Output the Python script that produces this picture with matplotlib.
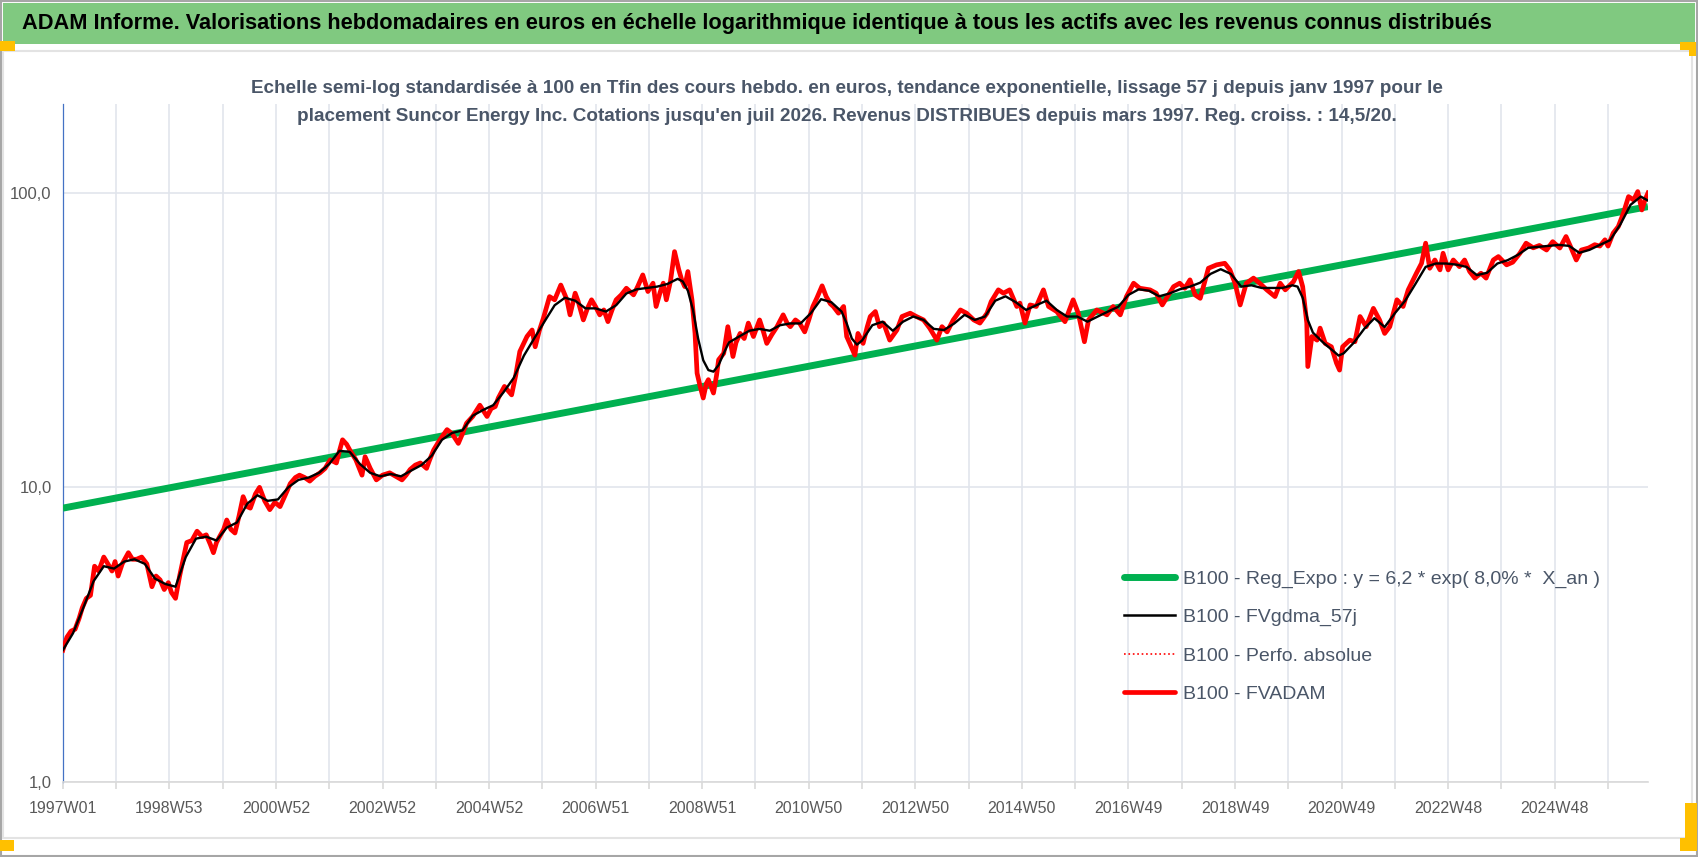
import matplotlib
matplotlib.use('Agg')
import matplotlib.pyplot as plt
from matplotlib.patches import Rectangle
from matplotlib.lines import Line2D

plt.rcParams['font.family'] = ['Liberation Sans Narrow', 'Liberation Sans', 'DejaVu Sans']

# semaines depuis 1997W01 (index) et valeurs
fvadam_sem = [0, 4, 8, 12, 16, 19, 23, 27, 31, 35, 40, 44, 48, 51, 54, 58, 64, 68, 72, 77,
              82, 87, 91, 95, 99, 103, 106, 110, 114, 121, 126, 131, 136, 140, 144, 147, 150, 153, 157, 160,
              164, 168, 172, 176, 180, 183, 188, 192, 197, 202, 207, 212, 217, 222, 227, 231, 236, 241, 246, 251,
              256, 261, 267, 270, 273, 277, 280, 286, 292, 295, 300, 306, 312, 319, 325, 331, 335, 339, 344, 349,
              355, 358, 362, 368, 375, 380, 386, 390, 394, 400, 407, 414, 418, 422, 425, 431, 438, 442, 446, 453,
              458, 461, 465, 469, 475, 480, 486, 492, 495, 500, 503, 508, 512, 516, 520, 524, 528, 532, 536, 540,
              545, 550, 557, 561, 566, 571, 576, 579, 583, 586, 589, 593, 597, 601, 604, 607, 610, 614, 617, 619,
              622, 625, 628, 630, 635, 638, 640, 645, 649, 654, 657, 661, 665, 669, 674, 680, 684, 687, 692, 697,
              703, 707, 710, 715, 719, 724, 728, 732, 736, 741, 745, 749, 752, 757, 762, 765, 768, 773, 776, 781,
              785, 788, 793, 797, 801, 807, 814, 819, 827, 833, 840, 846, 853, 858, 863, 869, 876, 882, 889, 895,
              902, 906, 913, 918, 924, 931, 934, 939, 944, 950, 957, 962, 970, 978, 986, 991, 997, 1001, 1009, 1019,
              1025, 1032, 1038, 1045, 1051, 1061, 1067, 1073, 1078, 1084, 1090, 1095, 1100, 1105, 1110, 1118, 1126, 1134, 1139, 1144,
              1149, 1155, 1162, 1168, 1175, 1183, 1188, 1193, 1201, 1206, 1210, 1214, 1215, 1219, 1224, 1227, 1232, 1238, 1243, 1246,
              1249, 1256, 1261, 1266, 1272, 1279, 1285, 1290, 1295, 1302, 1308, 1313, 1321, 1326, 1330, 1334, 1339, 1344, 1347, 1352,
              1357, 1363, 1368, 1373, 1378, 1384, 1389, 1396, 1401, 1409, 1415, 1422, 1428, 1435, 1441, 1448, 1454, 1461, 1467, 1472,
              1477, 1482, 1489, 1495, 1500, 1505, 1508, 1513, 1518, 1523, 1528, 1533, 1537, 1541, 1544, 1547]
fvadam_val = [2.8, 3.1, 3.25, 3.3, 3.6, 3.9, 4.2, 4.3, 5.4, 5.2, 5.8, 5.5, 5.2, 5.6, 5.0, 5.5, 6.0, 5.7, 5.7, 5.8,
              5.5, 4.6, 5.0, 4.85, 4.5, 4.75, 4.4, 4.2, 5.0, 6.5, 6.6, 7.1, 6.8, 6.9, 6.4, 6.0, 6.5, 6.8, 7.2, 7.75,
              7.2, 7.0, 8.0, 9.3, 8.6, 8.5, 9.5, 10.0, 9.0, 8.4, 8.9, 8.6, 9.4, 10.3, 10.8, 11.0, 10.8, 10.5, 10.9, 11.2,
              11.6, 12.4, 12.1, 13.3, 14.5, 14.0, 13.4, 12.4, 11.0, 12.7, 11.6, 10.6, 11.0, 11.2, 10.9, 10.6, 11.0, 11.5, 11.9, 12.1,
              11.6, 12.4, 13.4, 14.5, 15.7, 15.2, 14.1, 15.2, 16.5, 17.4, 19.0, 17.4, 18.5, 18.8, 20.1, 22.0, 20.6, 24.0, 28.9, 32.5,
              34.2, 30.0, 34.0, 37.5, 44.4, 43.3, 48.6, 43.3, 38.5, 45.6, 42.7, 37.0, 40.5, 43.3, 41.0, 38.5, 40.0, 36.5, 40.0, 43.3,
              45.0, 47.4, 45.0, 48.0, 52.6, 46.2, 49.3, 41.1, 46.0, 49.3, 43.3, 50.0, 63.1, 55.0, 50.6, 48.0, 54.0, 43.3, 33.3, 24.4,
              22.0, 20.1, 22.5, 23.2, 20.9, 24.0, 27.1, 28.5, 35.1, 27.8, 31.0, 33.3, 32.0, 36.1, 32.5, 37.0, 33.5, 30.8, 33.0, 35.1,
              38.5, 36.0, 35.1, 37.0, 36.1, 33.7, 37.0, 41.1, 44.0, 48.3, 44.4, 42.0, 41.1, 39.0, 41.1, 32.5, 30.8, 28.1, 33.3, 30.8,
              35.0, 38.0, 39.5, 35.1, 36.1, 31.6, 34.2, 38.0, 39.0, 38.0, 37.0, 34.7, 31.6, 35.1, 33.7, 37.0, 40.0, 39.0, 37.0, 36.1,
              39.0, 42.7, 46.8, 45.6, 46.8, 41.1, 42.2, 36.1, 41.6, 41.1, 46.8, 41.1, 39.5, 36.5, 43.3, 39.0, 31.2, 37.0, 40.0, 38.5,
              41.1, 38.5, 44.4, 49.3, 47.4, 46.8, 45.6, 41.6, 44.4, 48.0, 49.3, 47.4, 50.6, 45.0, 43.8, 55.4, 56.9, 57.6, 54.7, 49.3,
              41.6, 49.3, 51.3, 49.3, 46.8, 44.4, 49.3, 46.8, 49.9, 54.0, 48.0, 36.1, 25.7, 32.5, 31.6, 34.7, 30.8, 30.0, 26.4, 25.0,
              30.0, 31.6, 31.2, 38.0, 35.1, 40.5, 37.0, 33.3, 35.1, 43.3, 41.1, 46.8, 53.3, 57.6, 67.4, 55.4, 59.1, 54.7, 62.3, 54.7,
              59.1, 56.1, 59.1, 54.0, 51.3, 53.3, 51.3, 59.1, 60.7, 56.9, 58.1, 62.3, 67.4, 65.0, 66.2, 63.9, 68.2, 64.9, 71.0, 64.9,
              59.1, 63.9, 64.9, 66.6, 65.9, 69.2, 65.9, 72.9, 76.7, 85.2, 97.0, 94.5, 100.9, 87.4, 94.5, 99.8]

gdma_sem = [0, 10, 20, 30, 40, 50, 60, 70, 80, 90, 100, 110, 120, 130, 140, 150, 160, 170, 180, 190,
            200, 210, 220, 230, 240, 250, 260, 270, 280, 290, 300, 310, 320, 330, 340, 350, 360, 370, 380, 390,
            400, 410, 420, 430, 440, 450, 460, 470, 480, 490, 500, 510, 520, 530, 540, 550, 560, 570, 580, 590,
            600, 605, 610, 615, 620, 625, 630, 635, 640, 645, 650, 660, 670, 680, 690, 700, 710, 720, 730, 740,
            750, 760, 765, 770, 775, 780, 790, 800, 810, 820, 830, 840, 850, 860, 870, 880, 890, 900, 910, 920,
            930, 940, 950, 960, 970, 980, 990, 1000, 1010, 1020, 1030, 1040, 1050, 1060, 1070, 1080, 1090, 1100, 1110, 1120,
            1130, 1140, 1150, 1160, 1170, 1180, 1190, 1200, 1205, 1210, 1215, 1220, 1230, 1240, 1245, 1250, 1260, 1270, 1280, 1290,
            1300, 1310, 1320, 1330, 1340, 1350, 1360, 1370, 1380, 1390, 1400, 1410, 1420, 1430, 1440, 1450, 1460, 1470, 1480, 1490,
            1500, 1510, 1520, 1530, 1540, 1547]
gdma_val = [2.8, 3.2, 3.9, 4.8, 5.4, 5.3, 5.6, 5.7, 5.5, 4.9, 4.7, 4.6, 5.8, 6.7, 6.8, 6.6, 7.3, 7.6, 8.8, 9.4,
            9.0, 9.1, 10.0, 10.6, 10.8, 11.2, 12.0, 13.3, 13.2, 12.0, 11.2, 10.9, 11.1, 10.9, 11.4, 11.9, 12.8, 14.5, 15.3, 15.6,
            17.5, 18.3, 19.0, 21.0, 23.5, 28.0, 32.0, 36.5, 41.5, 44.0, 43.0, 40.5, 40.5, 39.5, 41.5, 45.5, 47.0, 47.5, 48.0, 49.0,
            51.0, 50.0, 46.5, 40.0, 32.0, 27.0, 25.0, 24.7, 26.0, 28.5, 31.0, 32.5, 34.0, 34.5, 34.0, 35.5, 36.0, 36.0, 39.0, 43.5,
            42.5, 39.5, 36.0, 32.0, 30.5, 31.5, 35.5, 36.5, 34.0, 36.5, 38.0, 37.0, 34.5, 34.2, 36.0, 38.5, 37.0, 38.0, 43.0, 44.5,
            42.5, 40.0, 41.5, 43.0, 40.0, 38.0, 38.0, 36.5, 38.0, 39.5, 41.0, 45.0, 47.0, 46.5, 44.5, 45.5, 47.0, 48.0, 49.5, 53.0,
            55.0, 53.0, 48.0, 48.5, 47.5, 47.5, 47.5, 48.5, 48.0, 44.0, 37.0, 33.5, 31.0, 29.0, 28.0, 28.5, 31.0, 34.5, 37.5, 35.0,
            39.0, 43.0, 49.0, 56.0, 57.5, 57.5, 57.0, 56.0, 52.5, 53.5, 57.5, 59.0, 61.5, 65.0, 65.5, 66.0, 66.5, 66.0, 62.5, 64.0,
            66.5, 69.0, 78.0, 91.0, 97.0, 94.0]

# regression exponentielle : extremites lues
reg_sem = [0, 1547]
reg_val = [8.5, 89.7]

tick_sem = [0, 104, 208, 312, 416, 520, 624, 728, 832, 936, 1040, 1144, 1248, 1352, 1456]
tick_lab = ['1997W01', '1998W53', '2000W52', '2002W52', '2004W52', '2006W51', '2008W51', '2010W50',
            '2012W50', '2014W50', '2016W49', '2018W49', '2020W49', '2022W48', '2024W48']
ytick_val = [1, 10, 100]
ytick_lab = ['1,0', '10,0', '100,0']

W, H = 1698, 857
fig = plt.figure(figsize=(W / 100, H / 100), dpi=100)

# cadre, bandeau vert, poignees jaunes
def px_rect(x0, y0, x1, y1, **kw):
    fig.patches.append(Rectangle((x0 / W, 1 - y1 / H), (x1 - x0) / W, (y1 - y0) / H,
                                 transform=fig.transFigure, figure=fig, **kw))

px_rect(1, 1, W - 1, H - 1, facecolor='none', edgecolor='#A6A6A6', linewidth=1.5)
px_rect(3, 3, 1695, 44, facecolor='#80C980', edgecolor='none')
px_rect(3, 51, 1692, 838, facecolor='none', edgecolor='#E3E3E3', linewidth=1.5)
px_rect(0, 41, 15, 51, facecolor='#FFC000', edgecolor='none')
px_rect(1680, 42, 1696, 50, facecolor='#FFC000', edgecolor='none')
px_rect(1689, 42, 1696, 56, facecolor='#FFC000', edgecolor='none')
px_rect(0, 840, 14, 851, facecolor='#FFC000', edgecolor='none')
px_rect(1685, 803, 1697, 851, facecolor='#FFC000', edgecolor='none')
px_rect(1680, 838, 1697, 851, facecolor='#FFC000', edgecolor='none')

fig.text(22 / W, 1 - 24 / H,
         "ADAM Informe. Valorisations hebdomadaires en euros en échelle logarithmique identique à tous les actifs avec les revenus connus distribués",
         fontsize=15.7, fontweight='bold', color='black', ha='left', va='center')
fig.text(847 / W, 1 - 102.5 / H,
         "Echelle semi-log standardisée à 100 en Tfin des cours hebdo. en euros, tendance exponentielle, lissage 57 j depuis janv 1997 pour le\n"
         "placement Suncor Energy Inc. Cotations jusqu'en juil 2026. Revenus DISTRIBUES depuis mars 1997. Reg. croiss. : 14,5/20.",
         fontsize=13.6, fontweight='bold', color='#4A5668', ha='center', va='center', linespacing=1.85)

ax = fig.add_axes([62.8 / W, 1 - 782 / H, (1648 - 62.8) / W, (782 - 104) / H])
ax.set_yscale('log')
ax.set_ylim(1, 200)
ax.set_xlim(0, 1547)

ax.plot(reg_sem, reg_val, color='#00B050', linewidth=5, solid_capstyle='butt', zorder=3)
ax.plot(fvadam_sem, fvadam_val, color='#FF0000', linewidth=1.2, linestyle=':', zorder=3.5)
ax.plot(fvadam_sem, fvadam_val, color='#FF0000', linewidth=3.4, zorder=4)
ax.plot(gdma_sem, gdma_val, color='black', linewidth=1.7, zorder=5)

ax.set_yticks(ytick_val)
ax.set_yticklabels(ytick_lab)
ax.yaxis.set_minor_locator(matplotlib.ticker.NullLocator())
ax.set_xticks(tick_sem)
ax.set_xticklabels(tick_lab)
ax.set_xticks([52 + 104 * k for k in range(15)], minor=True)
ax.tick_params(axis='y', length=0, pad=8, labelsize=12, labelcolor='#595959')
ax.tick_params(axis='x', which='both', length=5, width=1.2, color='#D9D9D9', direction='out',
               pad=9, labelsize=11.5, labelcolor='#595959')
ax.grid(True, which='both', axis='x', color='#E1E5EC', linewidth=1.2)
ax.grid(True, which='major', axis='y', color='#E1E5EC', linewidth=1.2)
ax.set_axisbelow(True)
for s in ['top', 'right']:
    ax.spines[s].set_visible(False)
ax.spines['left'].set_color('#4472C4')
ax.spines['left'].set_linewidth(0.9)
ax.spines['bottom'].set_color('#D9D9D9')
ax.spines['bottom'].set_linewidth(1.2)

handles = [Line2D([], [], color='#00B050', linewidth=5, solid_capstyle='round'),
           Line2D([], [], color='black', linewidth=1.8),
           Line2D([], [], color='#FF0000', linewidth=1.2, linestyle=':'),
           Line2D([], [], color='#FF0000', linewidth=3.4, solid_capstyle='round')]
labels = ['B100 - Reg_Expo : y = 6,2 * exp( 8,0% *  X_an )', 'B100 - FVgdma_57j',
          'B100 - Perfo. absolue', 'B100 - FVADAM']
fig.legend(handles, labels, loc='upper left', bbox_to_anchor=(1124 / W, 1 - 570 / H),
           frameon=False, fontsize=14, handlelength=2.6, handletextpad=0.45,
           labelspacing=1.07, borderpad=0, borderaxespad=0, labelcolor='#4A5668')

fig.savefig('out.png', dpi=100)
